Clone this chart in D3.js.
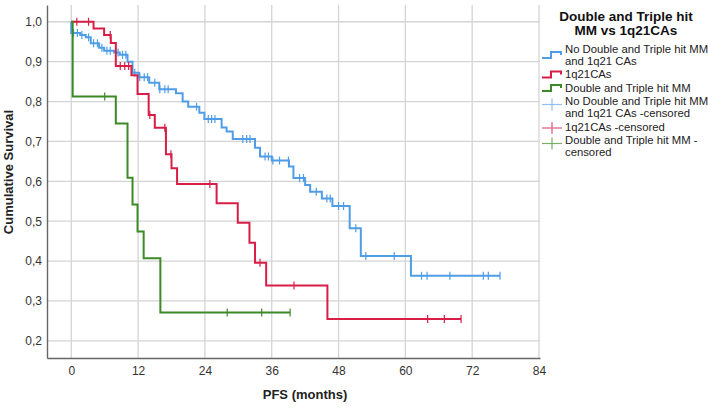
<!DOCTYPE html>
<html>
<head>
<meta charset="utf-8">
<script src="https://cdn.jsdelivr.net/npm/d3@7"></script>
<style>
  body { margin: 0; background: #fff; }
  svg { font-family: "Liberation Sans", Arial, sans-serif; }
</style>
</head>
<body>
<svg id="chart" width="708" height="408"></svg>
<script>
// step data (months, cumulative survival)
const blueTimes = [0, 0, 1.6, 2.6, 3.5, 5.0, 5.9, 7.7, 8.7, 10.1, 11.0, 12.2, 14.0, 15.8, 18.8, 20.0, 21.0, 23.0, 23.9, 27.0, 27.9, 29.0, 33.0, 33.9, 36.0, 39.1, 39.9, 42.0, 42.9, 45.0, 46.9, 50.0, 52.0, 61.0];
const blueSurv = [1.0, 0.972, 0.967, 0.961, 0.946, 0.935, 0.927, 0.923, 0.917, 0.900, 0.872, 0.861, 0.847, 0.831, 0.821, 0.800, 0.787, 0.772, 0.756, 0.735, 0.725, 0.706, 0.684, 0.662, 0.652, 0.637, 0.608, 0.591, 0.574, 0.557, 0.538, 0.482, 0.413, 0.363];
const blueEnd = 77.0;
const blueCensored = [0.4, 1.1, 1.9, 3.1, 4.0, 4.7, 5.5, 6.4, 7.0, 8.4, 9.2, 9.8, 11.4, 12.3, 13.1, 13.7, 15.0, 15.9, 16.8, 17.4, 22.5, 24.6, 25.2, 25.8, 30.8, 31.5, 32.1, 34.8, 35.4, 36.2, 37.4, 39.0, 41.0, 41.7, 44.0, 45.9, 46.5, 48.0, 48.9, 51.1, 52.9, 58.0, 62.9, 63.9, 68.0, 74.0, 74.9, 77.0];

const redTimes = [0, 4.0, 5.9, 7.1, 8.0, 10.8, 11.9, 13.9, 15.0, 17.0, 18.0, 19.0, 26.1, 29.9, 32.0, 33.0, 35.0, 46.0];
const redSurv = [1.0, 0.983, 0.967, 0.947, 0.889, 0.866, 0.819, 0.766, 0.734, 0.668, 0.633, 0.593, 0.545, 0.496, 0.446, 0.396, 0.339, 0.255];
const redEnd = 70.0;
const redCensored = [1.0, 3.1, 7.0, 8.8, 9.6, 10.3, 14.1, 16.8, 17.9, 24.9, 33.9, 40.0, 64.0, 67.0, 70.0];

const greenTimes = [0, 0.25, 8.0, 10.1, 11.0, 11.9, 13.0, 16.0];
const greenSurv = [1.0, 0.8125, 0.745, 0.609, 0.542, 0.474, 0.407, 0.271];
const greenEnd = 39.3;
const greenCensored = [6.0, 28.0, 34.2, 39.3];

const xTicks = [0, 12, 24, 36, 48, 60, 72, 84];
const yTicks = [0.2, 0.3, 0.4, 0.5, 0.6, 0.7, 0.8, 0.9, 1.0];

const legendTitle = ["Double and Triple hit", "MM vs 1q21CAs"];
const legendItems = [
  { lines: ["No Double and Triple hit MM", "and 1q21 CAs"], color: "#4f9de6", kind: "step" },
  { lines: ["1q21CAs"], color: "#d81e47", kind: "step" },
  { lines: ["Double and Triple hit MM"], color: "#3b8a26", kind: "step" },
  { lines: ["No Double and Triple hit MM", "and 1q21 CAs -censored"], color: "#8fc0ee", kind: "cens" },
  { lines: ["1q21CAs -censored"], color: "#e0577a", kind: "cens" },
  { lines: ["Double and Triple hit MM -", "censored"], color: "#79b068", kind: "cens" }
];

const svg = d3.select("#chart");
const plotLeft = 47, plotRight = 540, plotTop = 5, plotBottom = 358;

const x = d3.scaleLinear().domain([-4.36, 84.18]).range([plotLeft, plotRight]);
const y = d3.scaleLinear().domain([0.157, 1.042]).range([plotBottom, plotTop]);

// grid
svg.append("g")
  .selectAll("line")
  .data(yTicks)
  .join("line")
  .attr("x1", plotLeft).attr("x2", plotRight)
  .attr("y1", d => y(d)).attr("y2", d => y(d))
  .style("stroke", "#d4d4d4").style("stroke-width", 1.3);

svg.append("g")
  .selectAll("line")
  .data(xTicks)
  .join("line")
  .attr("x1", d => x(d)).attr("x2", d => x(d))
  .attr("y1", plotTop).attr("y2", plotBottom)
  .style("stroke", "#d4d4d4").style("stroke-width", 1.3);

// axes
const fmt = d => d3.format(".1f")(d).replace(".", ",");

const yAxis = svg.append("g")
  .attr("transform", `translate(${plotLeft},0)`)
  .call(d3.axisLeft(y).tickValues(yTicks).tickSize(0).tickPadding(5).tickFormat(fmt));

const xAxis = svg.append("g")
  .attr("transform", `translate(0,${plotBottom})`)
  .call(d3.axisBottom(x).tickValues(xTicks).tickSize(0).tickPadding(8));

[yAxis, xAxis].forEach(a => {
  a.select(".domain").style("stroke", "#666").style("stroke-width", 1.4);
  a.selectAll("text").style("font-size", "12px").style("fill", "#333")
    .style("font-family", "'Liberation Sans', Arial, sans-serif");
});

svg.append("text")
  .attr("transform", "translate(10,172) rotate(-90)")
  .attr("text-anchor", "middle")
  .attr("dominant-baseline", "middle")
  .style("font-weight", "bold").style("font-size", "13px").style("fill", "#222")
  .text("Cumulative Survival");

svg.append("text")
  .attr("x", 305).attr("y", 396)
  .attr("text-anchor", "middle")
  .attr("dominant-baseline", "middle")
  .style("font-weight", "bold").style("font-size", "13px").style("fill", "#222")
  .text("PFS (months)");

// curves
const series = [
  { times: blueTimes, surv: blueSurv, end: blueEnd, cens: blueCensored, color: "#4f9de6" },
  { times: redTimes, surv: redSurv, end: redEnd, cens: redCensored, color: "#d81e47" },
  { times: greenTimes, surv: greenSurv, end: greenEnd, cens: greenCensored, color: "#3b8a26" }
];

const line = d3.line().x(d => x(d[0])).y(d => y(d[1])).curve(d3.curveStepAfter);

const survAt = (s, t) => {
  const i = d3.bisectRight(s.times, t) - 1;
  return s.surv[Math.max(0, i)];
};

series.forEach(s => {
  const pts = s.times.map((t, i) => [t, s.surv[i]]);
  pts.push([s.end, s.surv[s.surv.length - 1]]);
  svg.append("path")
    .datum(pts)
    .attr("d", line)
    .style("fill", "none")
    .style("stroke", s.color)
    .style("stroke-width", 2);

  svg.append("g")
    .selectAll("line")
    .data(s.cens)
    .join("line")
    .attr("x1", d => x(d)).attr("x2", d => x(d))
    .attr("y1", d => y(survAt(s, d)) - 4)
    .attr("y2", d => y(survAt(s, d)) + 4)
    .style("stroke", s.color)
    .style("stroke-width", 1.2);
});

// legend
const lg = svg.append("g");
legendTitle.forEach((t, i) => {
  lg.append("text")
    .attr("x", 626).attr("y", 17 + i * 14)
    .attr("text-anchor", "middle")
    .attr("dominant-baseline", "middle")
    .style("font-weight", "bold").style("font-size", "13.5px").style("fill", "#111")
    .text(t);
});

let ly = 50;
legendItems.forEach(item => {
  const mid = item.lines.length > 1 ? ly + 6 : ly;
  if (item.kind === "step") {
    lg.append("path")
      .attr("d", `M542,${mid + 2}H551V${mid - 4}H561V${mid - 1}`)
      .style("fill", "none").style("stroke", item.color).style("stroke-width", 2);
  } else {
    const cy = item.lines.length > 1 ? ly + 2 : ly;
    lg.append("line").attr("x1", 542).attr("x2", 562).attr("y1", cy).attr("y2", cy)
      .style("stroke", item.color).style("stroke-width", 1.2);
    lg.append("line").attr("x1", 552).attr("x2", 552).attr("y1", cy - 6).attr("y2", cy + 6)
      .style("stroke", item.color).style("stroke-width", 1.2);
  }
  item.lines.forEach((t, i) => {
    lg.append("text")
      .attr("x", 565).attr("y", ly + i * 12)
      .attr("dominant-baseline", "middle")
      .style("font-size", "11.3px").style("fill", "#222")
      .text(t);
  });
  ly += item.lines.length * 12 + 1.5;
});
</script>
</body>
</html>
